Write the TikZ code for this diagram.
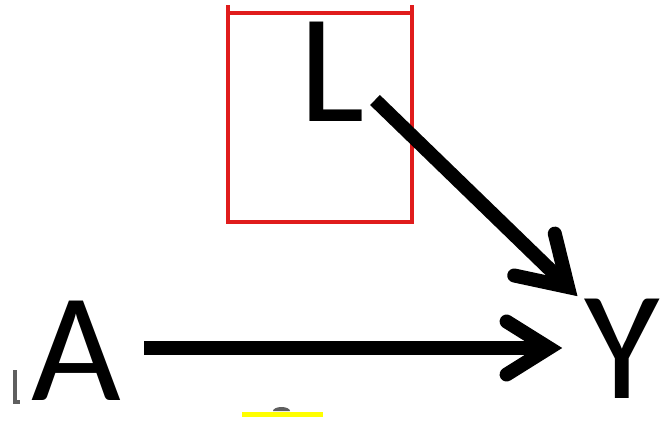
\documentclass[tikz,border=0pt]{standalone}
\usepackage{fontspec}
\setmainfont{Carlito}
\usetikzlibrary{calc}
\definecolor{boxred}{RGB}{224,28,28}
\definecolor{fraggray}{RGB}{95,95,95}
\definecolor{hlyellow}{RGB}{255,255,0}
\begin{document}
\begin{tikzpicture}[x=1pt,y=-1pt,
  letter/.style={inner sep=0pt,anchor=base west,font=\fontsize{155}{155}\selectfont},
  shaft/.style={line width=14pt,line cap=butt},
  barb/.style={line width=14pt,line cap=round,line join=miter,miter limit=10}]
\useasboundingbox (0,0) rectangle (660,421);
% red box
\draw[boxred,line width=4pt] (228,13) rectangle (412,222);
\draw[boxred,line width=4pt] (228,5) -- (228,13) (412,5) -- (412,13);
% letters
\node[letter] (L) at (299,121) {L};
\node[letter] (A) at (31,400) {A};
\node[letter] (Y) at (584,398) {Y};
% connector points
\coordinate (as) at (144,348);
\coordinate (ye) at (549,348);
\coordinate (ls) at (375,100);
\coordinate (yn) at (568,287);
% arrows
\draw[shaft] (as) -- (ye);
\draw[barb] ($(ye)!50pt!32:(as)$) -- (ye) -- ($(ye)!50pt!-32:(as)$);
\draw[shaft] (ls) -- (yn);
\draw[barb] ($(yn)!55pt!32:(ls)$) -- (yn) -- ($(yn)!55pt!-32:(ls)$);
% fragments at edges
\fill[fraggray] (13,370) rectangle (17,404);
\fill[fraggray] (13,400) rectangle (20,404);
\fill[hlyellow] (242,412) rectangle (323,417);
\fill[fraggray] (273,411) arc[start angle=180,end angle=360,x radius=8.5pt,y radius=-4pt] -- cycle;
\end{tikzpicture}
\end{document}
